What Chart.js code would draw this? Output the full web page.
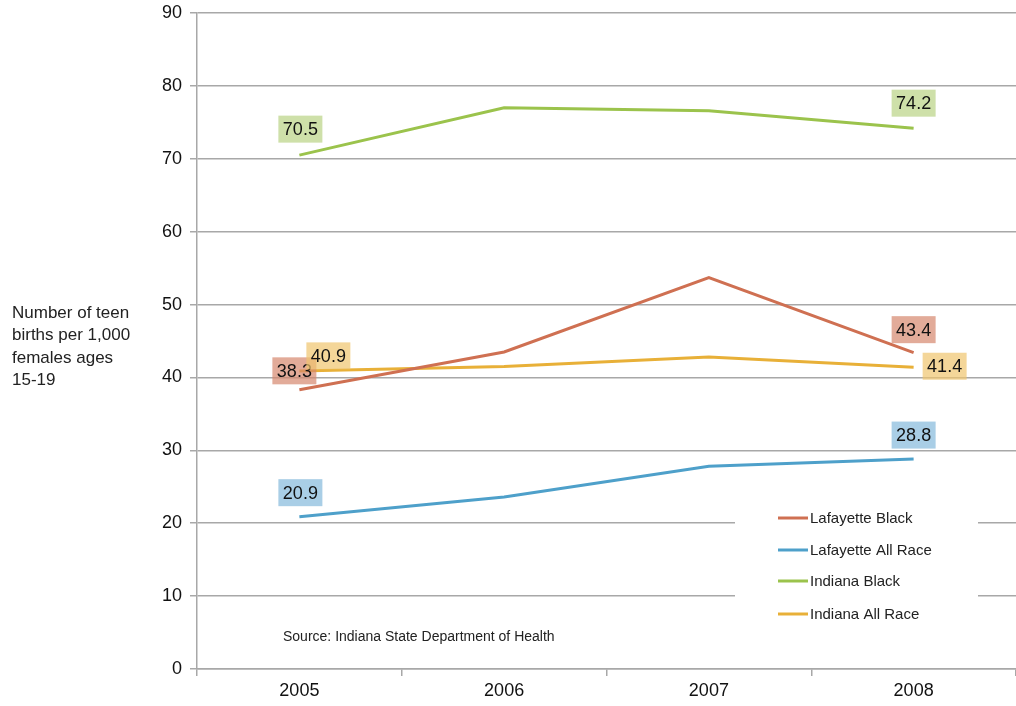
<!DOCTYPE html>
<html>
<head>
<meta charset="utf-8">
<script src="https://cdn.jsdelivr.net/npm/chart.js@4"></script>
<style>
  html, body { margin: 0; padding: 0; background: #fff; }
  #wrap { width: 1016px; height: 706px; }
</style>
</head>
<body>
<div id="wrap"><canvas id="teenChart"></canvas></div>
<script>
// data
const years = ['2005', '2006', '2007', '2008'];
const lafayetteBlack = [38.3, 43.5, 53.7, 43.4];
const lafayetteAll = [20.9, 23.6, 27.8, 28.8];
const indianaBlack = [70.5, 77.0, 76.6, 74.2];
const indianaAll = [40.9, 41.5, 42.8, 41.4];
const yTicks = [0, 10, 20, 30, 40, 50, 60, 70, 80, 90];
const seriesNames = ['Lafayette Black', 'Lafayette All Race', 'Indiana Black', 'Indiana All Race'];

const lineColors = ['rgb(207,112,82)', 'rgb(78,160,202)', 'rgb(155,195,76)', 'rgb(232,176,56)'];
const boxColors = ['rgba(214,135,110,0.7)', 'rgba(140,190,222,0.75)', 'rgba(190,214,140,0.75)', 'rgba(240,196,110,0.7)'];

// label box offsets from the point, for first and last year
const labelOffsets = [
    [[-5, -19], [0, -23]],
    [[1, -24], [0, -24]],
    [[1, -26], [0, -25]],
    [[29, -15], [31, -1]]
];

const gridGray = '#a8a8a8';

const labelPlugin = {
    id: 'labelPlugin',
    afterDatasetsDraw(chart) {
        const ctx = chart.ctx;
        ctx.save();
        // value boxes
        ctx.font = '18px "Liberation Sans", Arial, sans-serif';
        ctx.textAlign = 'center';
        ctx.textBaseline = 'middle';
        chart.data.datasets.forEach((ds, i) => {
            const meta = chart.getDatasetMeta(i);
            [0, ds.data.length - 1].forEach((idx, k) => {
                const pt = meta.data[idx];
                const off = labelOffsets[i][k];
                const cx = pt.x + off[0], cy = pt.y + off[1];
                ctx.fillStyle = boxColors[i];
                ctx.fillRect(cx - 22, cy - 13.5, 44, 27);
                ctx.fillStyle = '#111';
                ctx.fillText(ds.data[idx].toFixed(1), cx, cy + 1);
            });
        });

        // legend box
        ctx.fillStyle = '#fff';
        ctx.fillRect(735, 500, 243, 140);
        ctx.font = '15px "Liberation Sans", Arial, sans-serif';
        ctx.textAlign = 'left';
        const rows = [518, 550, 581, 614];
        seriesNames.forEach((name, i) => {
            ctx.strokeStyle = lineColors[i];
            ctx.lineWidth = 3;
            ctx.beginPath();
            ctx.moveTo(778, rows[i]);
            ctx.lineTo(808, rows[i]);
            ctx.stroke();
            ctx.fillStyle = '#222';
            ctx.fillText(name, 810, rows[i] + 1);
        });

        // source note
        ctx.font = '14px "Liberation Sans", Arial, sans-serif';
        ctx.fillText('Source: Indiana State Department of Health', 283, 637);

        // axis title on the left
        ctx.font = '17px "Liberation Sans", Arial, sans-serif';
        const titleLines = ['Number of teen', 'births per 1,000', 'females ages', '15-19'];
        titleLines.forEach((t, j) => ctx.fillText(t, 12, 313 + j * 22.5));
        ctx.restore();
    }
};

const ChartA = document.getElementById('teenChart');
const teenChart = new Chart(ChartA, {
    type: 'line',
    data: {
        labels: years,
        datasets: [
            { label: seriesNames[0], data: lafayetteBlack },
            { label: seriesNames[1], data: lafayetteAll },
            { label: seriesNames[2], data: indianaBlack },
            { label: seriesNames[3], data: indianaAll }
        ].map((d, i) => Object.assign(d, {
            borderColor: lineColors[i],
            backgroundColor: lineColors[i],
            borderWidth: 3,
            pointRadius: 0,
            tension: 0
        }))
    },
    options: {
        responsive: true,
        maintainAspectRatio: false,
        animation: false,
        layout: { padding: { top: 13, right: 0, left: 0, bottom: 0 } },
        scales: {
            x: {
                offset: true,
                grid: {
                    offset: true,
                    drawOnChartArea: false,
                    drawTicks: true,
                    tickLength: 7,
                    color: gridGray,
                    lineWidth: 1.5
                },
                border: { color: gridGray, width: 1.5 },
                ticks: {
                    color: '#111',
                    font: { size: 18, family: '"Liberation Sans", Arial, sans-serif' },
                    padding: 4
                },
                afterFit(scale) {
                    scale.height = 37;
                    scale.paddingLeft = 0;
                    scale.paddingRight = 0;
                }
            },
            y: {
                min: 0,
                max: 90,
                afterBuildTicks(scale) { scale.ticks = yTicks.map(v => ({ value: v })); },
                grid: {
                    color: gridGray,
                    lineWidth: 1.5,
                    drawTicks: true,
                    tickLength: 7
                },
                border: { color: gridGray, width: 1.5 },
                ticks: {
                    color: '#111',
                    font: { size: 18, family: '"Liberation Sans", Arial, sans-serif' },
                    padding: 8
                },
                afterFit(scale) {
                    scale.width = 197;
                    scale.paddingTop = 0;
                    scale.paddingBottom = 0;
                }
            }
        },
        plugins: {
            legend: { display: false },
            tooltip: { enabled: false }
        }
    },
    plugins: [labelPlugin]
});
</script>
</body>
</html>
